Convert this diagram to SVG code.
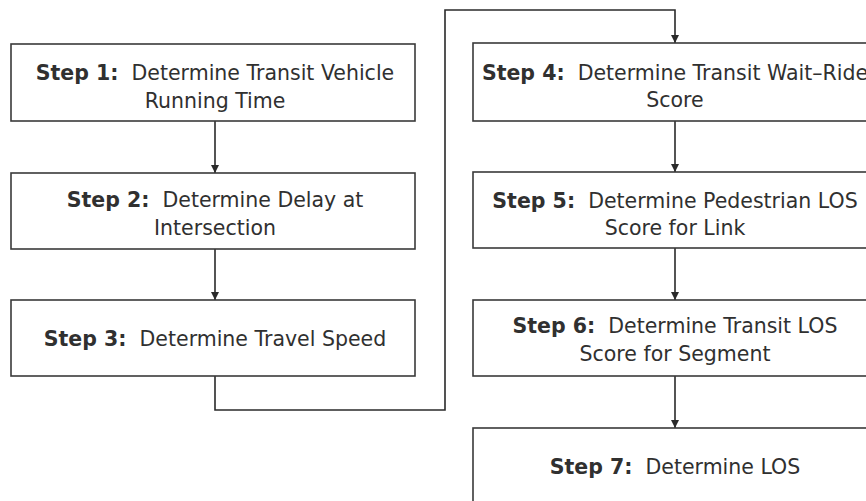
<svg xmlns="http://www.w3.org/2000/svg" width="866" height="501" viewBox="0 0 866 501">
  <style>
    .box { fill: #ffffff; stroke: #3a3a3a; stroke-width: 1.6; }
    .wire { fill: none; stroke: #2a2a2a; stroke-width: 1.6; }
    text { font-family: "DejaVu Sans", Verdana, sans-serif; font-size: 20.5px; fill: #303030; text-anchor: middle; white-space: pre; }
    .b { font-weight: bold; }
  </style>
  <defs>
    <marker id="arrow" viewBox="0 0 8 8" refX="8" refY="4" markerWidth="8" markerHeight="8" markerUnits="userSpaceOnUse" orient="auto">
      <path d="M0,0 L8,4 L0,8 Z" fill="#2a2a2a"/>
    </marker>
  </defs>
  <rect width="866" height="501" fill="#ffffff"/>

  <g id="connectors">
    <line class="wire" x1="215" y1="121" x2="215" y2="173" marker-end="url(#arrow)"/>
    <line class="wire" x1="215" y1="249" x2="215" y2="300" marker-end="url(#arrow)"/>
    <path class="wire" d="M215,376 V410 H445 V10 H675 V43" marker-end="url(#arrow)"/>
    <line class="wire" x1="675" y1="121" x2="675" y2="172" marker-end="url(#arrow)"/>
    <line class="wire" x1="675" y1="248" x2="675" y2="300" marker-end="url(#arrow)"/>
    <line class="wire" x1="675" y1="376" x2="675" y2="428" marker-end="url(#arrow)"/>
  </g>

  <g id="step1">
    <rect class="box" x="11" y="44" width="404" height="77"/>
    <text x="215" y="80" xml:space="preserve"><tspan class="b">Step 1:</tspan>  Determine Transit Vehicle</text>
    <text x="215" y="108">Running Time</text>
  </g>
  <g id="step2">
    <rect class="box" x="11" y="173" width="404" height="76"/>
    <text x="215" y="207" xml:space="preserve"><tspan class="b">Step 2:</tspan>  Determine Delay at</text>
    <text x="215" y="235">Intersection</text>
  </g>
  <g id="step3">
    <rect class="box" x="11" y="300" width="404" height="76"/>
    <text x="215" y="346" xml:space="preserve"><tspan class="b">Step 3:</tspan>  Determine Travel Speed</text>
  </g>
  <g id="step4">
    <rect class="box" x="473" y="43" width="404" height="78"/>
    <text x="675" y="80" xml:space="preserve"><tspan class="b">Step 4:</tspan>  Determine Transit Wait–Ride</text>
    <text x="675" y="107">Score</text>
  </g>
  <g id="step5">
    <rect class="box" x="473" y="172" width="404" height="76"/>
    <text x="675" y="208" xml:space="preserve"><tspan class="b">Step 5:</tspan>  Determine Pedestrian LOS</text>
    <text x="675" y="235">Score for Link</text>
  </g>
  <g id="step6">
    <rect class="box" x="473" y="300" width="404" height="76"/>
    <text x="675" y="333" xml:space="preserve"><tspan class="b">Step 6:</tspan>  Determine Transit LOS</text>
    <text x="675" y="361">Score for Segment</text>
  </g>
  <g id="step7">
    <rect class="box" x="473" y="428" width="404" height="78"/>
    <text x="675" y="474" xml:space="preserve"><tspan class="b">Step 7:</tspan>  Determine LOS</text>
  </g>
</svg>
